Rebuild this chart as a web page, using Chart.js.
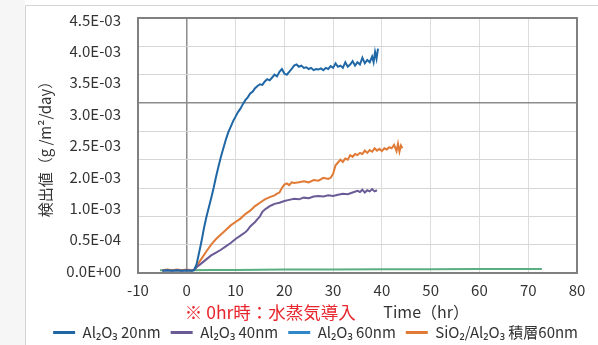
<!DOCTYPE html>
<html><head><meta charset="utf-8">
<script src="https://cdn.jsdelivr.net/npm/chart.js@4/dist/chart.umd.min.js"></script>
<style>html,body{margin:0;padding:0;overflow:hidden;background:#fff;width:598px;height:345px}canvas{display:block}</style>
</head><body>
<canvas id="c" width="598" height="350"></canvas>
<script>
// Y tick labels as printed on the original (bottom to top)
const yTickLabels = ['0.0E+00','0.5E-04','1.0E-03','2.0E-03','2.5E-03','3.0E-03','3.5E-03','4.0E-03','4.5E-03'];
const yTitle = '検出値（g /m²/day）';
const xTitle = 'Time（hr）';
const xNote = '※ 0hr時：水蒸気導入';
const seriesNames = ['Al₂O₃ 20nm','Al₂O₃ 40nm','Al₂O₃ 60nm','SiO₂/Al₂O₃ 積層60nm'];

// Al2O3 20nm
const t20 = [-5,-4,-3,-2,-1,0,1,1.5,2,2.5,3,3.5,4,4.5,5,5.5,6,6.5,7,7.5,8,8.5,9,9.5,10,10.5,11,11.5,12,12.5,13,13.5,14,14.5,15,15.5,16,16.5,17,17.5,18,18.5,19,19.5,20,20.5,21,21.5,22,22.5,23,23.5,24,24.5,25,25.5,26,26.5,27,27.5,28,28.5,29,29.5,30,30.5,31,31.5,32,32.5,33,33.5,34,34.5,35,35.5,36,36.5,37,37.5,38,38.3,38.6,38.9,39.2];
const v20 = [0.04,0.05,0.04,0.05,0.04,0.05,0.04,0.05,0.15,0.35,0.55,0.78,0.98,1.15,1.32,1.5,1.7,1.88,2.05,2.2,2.35,2.48,2.58,2.68,2.76,2.84,2.9,2.98,3.05,3.1,3.17,3.2,3.26,3.3,3.33,3.32,3.38,3.42,3.4,3.45,3.5,3.47,3.55,3.6,3.52,3.5,3.55,3.6,3.66,3.68,3.64,3.66,3.62,3.63,3.6,3.62,3.58,3.6,3.59,3.61,3.58,3.62,3.6,3.65,3.62,3.7,3.64,3.66,3.62,3.72,3.64,3.68,3.74,3.66,3.72,3.68,3.8,3.7,3.76,3.72,3.82,3.72,3.9,3.78,3.96];
// Al2O3 40nm
const t40 = [-5,-4,-3,-2,-1,0,1,1.5,2,3,4,5,6,7,8,9,10,11,12,12.5,13,13.5,14,14.5,15,15.5,16,16.5,17,17.5,18,19,20,21,22,23,24,25,26,27,28,29,30,31,32,33,34,35,35.5,36,36.5,37,37.5,38,38.5,39];
const v40 = [0.04,0.05,0.04,0.05,0.04,0.05,0.04,0.05,0.1,0.17,0.24,0.31,0.36,0.41,0.47,0.53,0.6,0.66,0.72,0.76,0.82,0.86,0.9,0.95,1.0,1.08,1.12,1.15,1.18,1.2,1.22,1.24,1.27,1.29,1.31,1.3,1.33,1.32,1.35,1.36,1.35,1.37,1.36,1.38,1.4,1.39,1.42,1.45,1.43,1.47,1.42,1.46,1.44,1.48,1.44,1.46];
// Al2O3 60nm (no visible trace, legend only)
const t60 = [];
const v60 = [];
// SiO2/Al2O3 stack 60nm
const tSi = [-5,-4,-3,-2,-1,0,1,1.5,2,3,4,5,6,7,8,9,10,11,12,13,14,15,16,17,18,18.5,19,19.5,20,20.5,21,21.5,22,23,24,25,26,27,28,29,29.5,30,30.5,31,31.5,32,32.5,33,33.5,34,34.5,35,35.5,36,36.5,37,37.5,38,38.5,39,39.5,40,40.5,41,41.5,42,42.5,43,43.3,43.6,43.9,44.2];
const vSi = [0.05,0.06,0.05,0.06,0.05,0.06,0.05,0.06,0.12,0.25,0.38,0.5,0.6,0.68,0.76,0.84,0.9,0.96,1.04,1.1,1.18,1.24,1.3,1.34,1.37,1.4,1.42,1.5,1.56,1.58,1.55,1.6,1.59,1.6,1.62,1.6,1.64,1.63,1.68,1.66,1.68,1.75,1.9,1.95,2.0,1.96,2.02,2.0,2.08,2.05,2.1,2.08,2.12,2.1,2.16,2.12,2.17,2.14,2.2,2.16,2.19,2.15,2.2,2.18,2.22,2.2,2.26,2.15,2.28,2.14,2.25,2.2];
// unlabeled green baseline trace
const tBase = [-5.5,0,5,10,20,30,40,50,60,72.8];
const vBase = [0.05,0.05,0.055,0.055,0.06,0.06,0.065,0.065,0.07,0.07];

const pts = (t, v) => t.map((x, i) => ({x, y: v[i]}));
const FONT = "'Noto Sans CJK JP','Noto Sans',sans-serif";
Chart.defaults.font.family = FONT;
Chart.defaults.color = '#333';

const decor = {
  id: 'decor',
  afterLayout(chart) {
    const lg = chart.legend;
    if (lg) { lg.left += 11; lg.right += 11; }
  },
  beforeDraw(chart) {
    const c = chart.ctx;
    c.save();
    c.fillStyle = '#f6f6f6';
    c.fillRect(0, 0, 25, chart.height);
    c.fillStyle = '#ffffff';
    c.fillRect(25, 5, chart.width - 25, chart.height - 5);
    c.strokeStyle = '#d4d4d4';
    c.lineWidth = 1;
    c.beginPath();
    c.moveTo(25.5, chart.height); c.lineTo(25.5, 5.5); c.lineTo(chart.width, 5.5);
    c.stroke();
    c.restore();
  },
  afterDraw(chart) {
    const c = chart.ctx, a = chart.chartArea, xs = chart.scales.x;
    c.save();
    c.strokeStyle = '#808080';
    c.lineWidth = 2;
    c.strokeRect(a.left, a.top, a.right - a.left, a.bottom - a.top);
    c.font = '17.5px ' + FONT;
    c.textBaseline = 'middle';
    c.textAlign = 'left';
    c.fillStyle = '#e8262d';
    c.fillText(xNote, xs.getPixelForValue(-0.4), 312);
    c.font = '16px ' + FONT;
    c.fillStyle = '#333';
    c.fillText(xTitle, xs.getPixelForValue(40.3), 312);
    c.restore();
  }
};

new Chart(document.getElementById('c'), {
  type: 'line',
  data: {
    datasets: [
      {label: seriesNames[0], yAxisID: 'y', data: pts(t20, v20), borderColor: '#2067a6', backgroundColor: '#2067a6', borderWidth: 2},
      {label: seriesNames[1], yAxisID: 'y', data: pts(t40, v40), borderColor: '#6a5a96', backgroundColor: '#6a5a96', borderWidth: 2},
      {label: seriesNames[2], yAxisID: 'y', data: pts(t60, v60), borderColor: '#2f86c8', backgroundColor: '#2f86c8', borderWidth: 2},
      {label: seriesNames[3], yAxisID: 'y', data: pts(tSi, vSi), borderColor: '#e07a35', backgroundColor: '#e07a35', borderWidth: 2},
      {label: '', yAxisID: 'y', data: pts(tBase, vBase), borderColor: '#5aae80', backgroundColor: '#5aae80', borderWidth: 2}
    ]
  },
  options: {
    responsive: false,
    animation: false,
    layout: {padding: {left: 28, top: 15, right: 21, bottom: 0}},
    elements: {point: {radius: 0}, line: {tension: 0}},
    plugins: {
      tooltip: {enabled: false},
      legend: {
        position: 'bottom',
        align: 'end',
        labels: {
          usePointStyle: true,
          pointStyle: 'line',
          pointStyleWidth: 22,
          padding: 10,
          color: '#333',
          font: {size: 15},
          generateLabels: (chart) => Chart.defaults.plugins.legend.labels.generateLabels(chart)
            .filter(l => l.text !== '').map(l => Object.assign(l, {lineWidth: 3}))
        }
      }
    },
    scales: {
      x: {
        type: 'linear', min: -10, max: 80,
        ticks: {stepSize: 10, padding: 8, font: {size: 15}, color: '#333'},
        grid: {drawTicks: false, color: ctx => ctx.tick && ctx.tick.value === 0 ? '#8c8c8c' : '#dcdcdc', lineWidth: ctx => ctx.tick && ctx.tick.value === 0 ? 1.5 : 1},
        border: {display: false},
        afterFit: s => { s.height = 42; }
      },
      yLab: {
        type: 'linear', position: 'left', min: -0.06, max: 8.06,
        afterBuildTicks: s => { s.ticks = yTickLabels.map((_, i) => ({value: i})); },
        ticks: {padding: 9, font: {size: 15}, color: '#333', callback: v => yTickLabels[v]},
        grid: {display: false},
        border: {display: false},
        title: {display: true, text: yTitle, font: {size: 15}, color: '#333', padding: {top: 8, bottom: 0}},
        afterFit: s => { s.width = 110; }
      },
      y: {
        type: 'linear', position: 'left', min: 0, max: 4.5,
        ticks: {display: false, stepSize: 0.5},
        grid: {drawTicks: false, color: ctx => ctx.tick && ctx.tick.value === 3 ? '#8c8c8c' : '#d6d6d6', lineWidth: ctx => ctx.tick && ctx.tick.value === 3 ? 1.5 : 1},
        border: {display: false},
        afterFit: s => { s.width = 0; }
      }
    }
  },
  plugins: [decor]
});
</script>
</body></html>
